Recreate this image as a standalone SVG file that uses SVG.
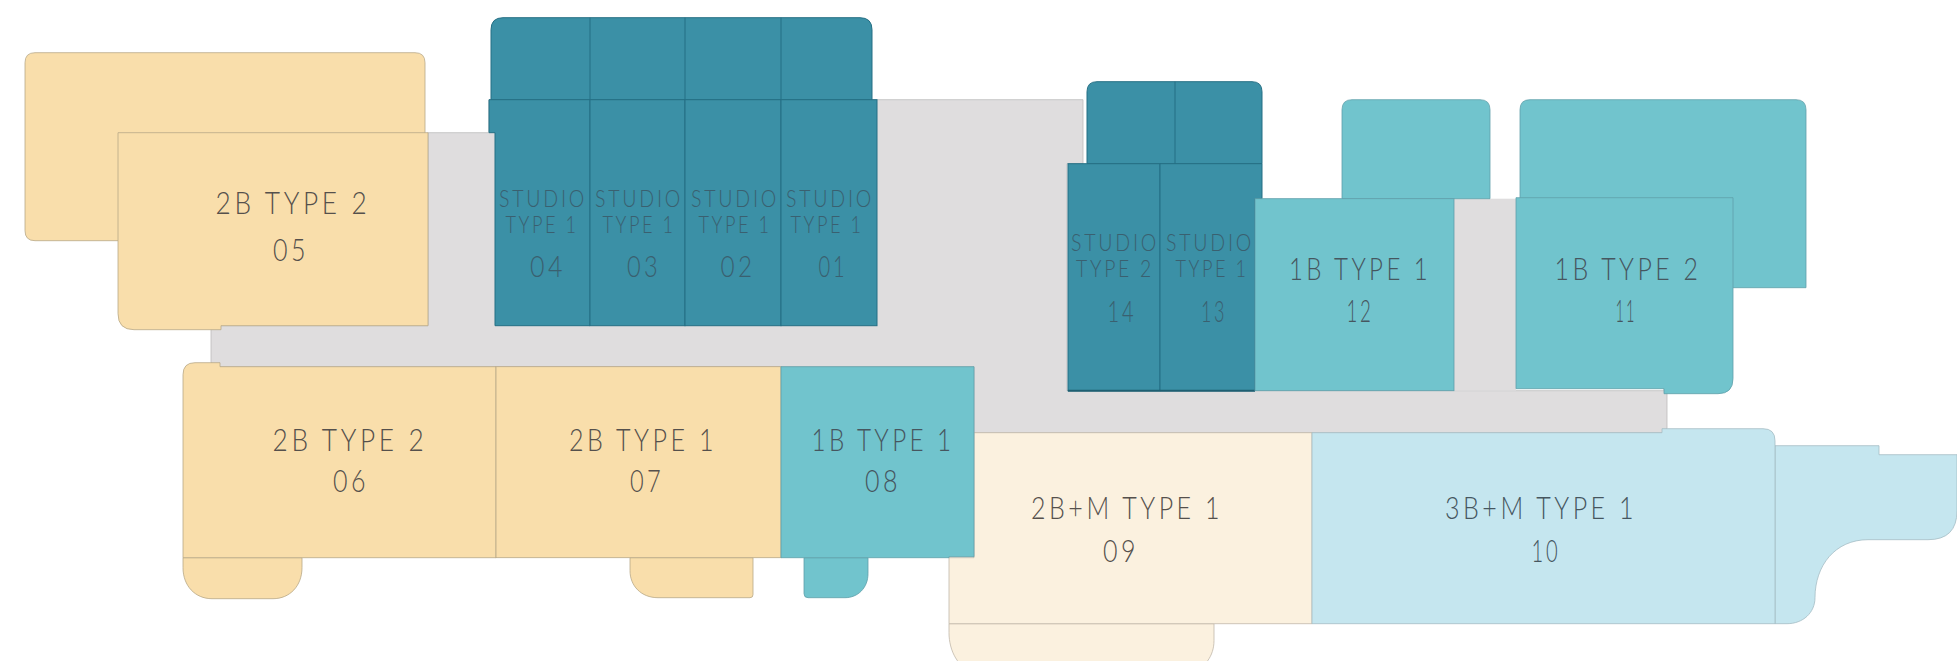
<svg xmlns="http://www.w3.org/2000/svg" width="1957" height="661" viewBox="0 0 1957 661">
<style>
.b{fill:#f9deab;stroke:#b8a888;stroke-width:.8}
.d{fill:#3b90a6;stroke:#256f84;stroke-width:1}
.t{fill:#71c4cd;stroke:#5f9faa;stroke-width:.8}
.c{fill:#fbf1df;stroke:#c0b8a9;stroke-width:.8}
.l{fill:#c5e6ef;stroke:#a5bcc4;stroke-width:.8}
.g{fill:#dfddde;stroke:#bdbbbb;stroke-width:.8}
text{font-family:"Lato","Liberation Sans",sans-serif;font-weight:300;font-size:31px;letter-spacing:.14em;text-anchor:middle;fill:#55504c;transform:translateX(2px)}
.s{font-size:24px;fill:#3a6070}
.n{font-size:29px;fill:#3a6070}
.u{fill:#46565f}
</style>
<rect width="1957" height="661" fill="#fff"/>
<g transform="translate(0 .7)">
<g id="corridor"><path class="g" d="M428 132H489V99H1083V163H1067V390H1664V388H1667V428L1662 432H974V366H220L211 362V325H428Z"/></g>
<g id="gap"><rect x="1454" y="198" width="62" height="192" fill="#dfddde"/></g>
<g id="unit-05">
<path class="b" d="M35 52H415Q425 52 425 62V240H35Q25 240 25 230V62Q25 52 35 52Z"/>
<path class="b" d="M118 132H428V325H221V329H134Q118 329 118 313Z"/>
<text x="291" y="213" textLength="155" lengthAdjust="spacingAndGlyphs">2B TYPE 2</text>
<text x="289" y="260" textLength="36" lengthAdjust="spacingAndGlyphs">05</text>
</g>
<g id="units-01-04-back">
<path class="d" d="M491 99V29Q491 17 503 17H860Q872 17 872 29V99Z"/>
<path class="d" fill="none" d="M590 17V99M685 17V99M781 17V99"/>
</g>
<g id="unit-04">
<path class="d" d="M489 99H590V325H495V132H489Z"/>
<text class="s" x="541" y="206" textLength="88" lengthAdjust="spacingAndGlyphs">STUDIO</text>
<text class="s" x="540" y="232" textLength="73" lengthAdjust="spacingAndGlyphs">TYPE 1</text>
<text class="n" x="546" y="276" textLength="36" lengthAdjust="spacingAndGlyphs">04</text>
</g>
<g id="unit-03">
<rect class="d" x="590" y="99" width="95" height="226"/>
<text class="s" x="637" y="206" textLength="88" lengthAdjust="spacingAndGlyphs">STUDIO</text>
<text class="s" x="637" y="232" textLength="73" lengthAdjust="spacingAndGlyphs">TYPE 1</text>
<text class="n" x="642" y="276" textLength="34" lengthAdjust="spacingAndGlyphs">03</text>
</g>
<g id="unit-02">
<rect class="d" x="685" y="99" width="96" height="226"/>
<text class="s" x="733" y="206" textLength="88" lengthAdjust="spacingAndGlyphs">STUDIO</text>
<text class="s" x="733" y="232" textLength="73" lengthAdjust="spacingAndGlyphs">TYPE 1</text>
<text class="n" x="736" y="276" textLength="35" lengthAdjust="spacingAndGlyphs">02</text>
</g>
<g id="unit-01">
<rect class="d" x="781" y="99" width="96" height="226"/>
<text class="s" x="828" y="206" textLength="88" lengthAdjust="spacingAndGlyphs">STUDIO</text>
<text class="s" x="825" y="232" textLength="73" lengthAdjust="spacingAndGlyphs">TYPE 1</text>
<text class="n" x="831" y="276" textLength="29" lengthAdjust="spacingAndGlyphs">01</text>
</g>
<g id="units-13-14-back">
<path class="d" d="M1087 163V91Q1087 81 1097 81H1252Q1262 81 1262 91V163Z"/>
<path class="d" fill="none" d="M1175 81V163"/>
</g>
<g id="unit-14">
<rect class="d" x="1068" y="163" width="92" height="227"/>
<text class="s" x="1113" y="250" textLength="88" lengthAdjust="spacingAndGlyphs">STUDIO</text>
<text class="s" x="1113" y="276" textLength="78" lengthAdjust="spacingAndGlyphs">TYPE 2</text>
<text class="n" x="1120" y="321" textLength="29" lengthAdjust="spacingAndGlyphs">14</text>
</g>
<g id="unit-13">
<path class="d" d="M1160 163H1262V198H1255V390H1160Z"/>
<text class="s" x="1208" y="250" textLength="88" lengthAdjust="spacingAndGlyphs">STUDIO</text>
<text class="s" x="1210" y="276" textLength="73" lengthAdjust="spacingAndGlyphs">TYPE 1</text>
<text class="n" x="1212" y="321" textLength="26" lengthAdjust="spacingAndGlyphs">13</text>
</g>
<path d="M1068 390H1255" fill="none" stroke="#1f5f72" stroke-width="2"/>
<g id="unit-12">
<path class="t" d="M1342 198V109Q1342 99 1352 99H1480Q1490 99 1490 109V198Z"/>
<rect class="t" x="1255" y="198" width="199" height="192"/>
<text x="1358" y="279" textLength="142" lengthAdjust="spacingAndGlyphs" class="u">1B TYPE 1</text>
<text x="1358" y="321" textLength="27" lengthAdjust="spacingAndGlyphs" class="u">12</text>
</g>
<g id="unit-11">
<path class="t" d="M1520 287V109Q1520 99 1530 99H1796Q1806 99 1806 109V287Z"/>
<path class="t" d="M1516 197H1733V378Q1733 393 1718 393H1664V388H1516Z"/>
<text x="1626" y="279" textLength="147" lengthAdjust="spacingAndGlyphs" class="u">1B TYPE 2</text>
<text x="1624" y="321" textLength="21" lengthAdjust="spacingAndGlyphs" class="u">11</text>
</g>
<g id="unit-06">
<path class="b" d="M183 557H302V567C302 585 290 598 273 598H212C195 598 183 585 183 567Z"/>
<path class="b" d="M183 374Q183 362 195 362H220V366H496V557H183Z"/>
<text x="348" y="450" textLength="155" lengthAdjust="spacingAndGlyphs">2B TYPE 2</text>
<text x="349" y="491" textLength="36" lengthAdjust="spacingAndGlyphs">06</text>
</g>
<g id="unit-07">
<path class="b" d="M630 557H753V594Q753 597 750 597H658C641 597 630 585 630 570Z"/>
<rect class="b" x="496" y="366" width="285" height="191"/>
<text x="641" y="450" textLength="148" lengthAdjust="spacingAndGlyphs">2B TYPE 1</text>
<text x="645" y="491" textLength="34" lengthAdjust="spacingAndGlyphs">07</text>
</g>
<g id="unit-09">
<path class="c" d="M949 623H1214V640C1214 655 1205 668 1190 672H975C958 668 949 650 949 632Z"/>
<path class="c" d="M974 432H1312V623H949V557H974Z"/>
<text x="1125" y="518" textLength="192" lengthAdjust="spacingAndGlyphs">2B+M TYPE 1</text>
<text x="1119" y="561" textLength="36" lengthAdjust="spacingAndGlyphs">09</text>
</g>
<g id="unit-08">
<path class="t" d="M804 557H868V573C868 587 858 597 845 597H808Q804 597 804 593Z"/>
<path class="t" d="M781 366H974V556H949V557H781Z"/>
<text x="881" y="450" textLength="143" lengthAdjust="spacingAndGlyphs" class="u">1B TYPE 1</text>
<text x="881" y="491" textLength="36" lengthAdjust="spacingAndGlyphs" class="u">08</text>
</g>
<g id="unit-10">
<path class="l" d="M1775 445H1879V454H1957V510Q1957 539 1928 539H1868C1835 539 1815 565 1815 597C1815 612 1803 623 1787 623H1775Z"/>
<path class="l" d="M1312 432H1662V428H1763Q1775 428 1775 440V623H1312Z"/>
<text x="1539" y="518" textLength="192" lengthAdjust="spacingAndGlyphs" class="u">3B+M TYPE 1</text>
<text x="1544" y="561" textLength="29" lengthAdjust="spacingAndGlyphs" class="u">10</text>
</g>
</g>
</svg>
